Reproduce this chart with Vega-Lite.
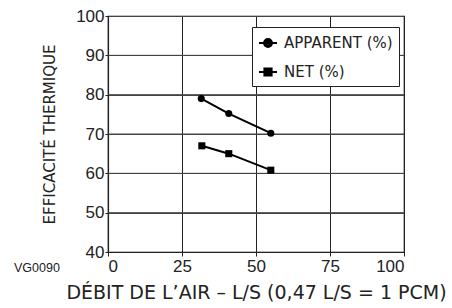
{
  "$schema": "https://vega.github.io/schema/vega-lite/v6.json",
  "width": 296,
  "height": 236,
  "autosize": "none",
  "padding": {"left": 108, "top": 16, "right": 48, "bottom": 56},
  "background": "white",
  "config": {
    "view": {"stroke": "black", "strokeWidth": 1.2},
    "font": "Liberation Sans"
  },
  "datasets": {
    "series": [
      {"debit": 31.5, "eff": 79.0, "serie": "APPARENT (%)"},
      {"debit": 40.8, "eff": 75.2, "serie": "APPARENT (%)"},
      {"debit": 55.0, "eff": 70.2, "serie": "APPARENT (%)"},
      {"debit": 31.7, "eff": 67.0, "serie": "NET (%)"},
      {"debit": 40.8, "eff": 65.0, "serie": "NET (%)"},
      {"debit": 55.0, "eff": 60.8, "serie": "NET (%)"}
    ],
    "grille": [{"eff": 50}, {"eff": 60}, {"eff": 70}, {"eff": 80}, {"eff": 90}],
    "note": [{"debit": -24, "eff": 35.9, "label": "VG0090"}]
  },
  "layer": [
    {
      "data": {"name": "series"},
      "mark": {"type": "line", "strokeWidth": 2},
      "encoding": {
        "x": {
          "field": "debit", "type": "quantitative",
          "scale": {"domain": [0, 100], "nice": false},
          "axis": {
            "values": [0, 25, 50, 75, 100],
            "title": "DÉBIT DE L’AIR – L/S (0,47 L/S = 1 PCM)",
            "titleFont": "DejaVu Sans", "titleFontWeight": "normal", "titleFontSize": 19, "titleColor": "#222",
            "titlePadding": 9,
            "labelFontSize": 17, "labelColor": "#222", "labelPadding": 2,
            "grid": true, "gridColor": "#222", "gridWidth": 1,
            "tickSize": 4, "tickColor": "#222", "domainColor": "#222", "domainWidth": 1.2
          }
        },
        "y": {
          "field": "eff", "type": "quantitative",
          "scale": {"domain": [40, 100], "nice": false, "zero": false},
          "axis": {
            "values": [40, 50, 60, 70, 80, 90, 100],
            "tickCount": 7,
            "labelOverlap": false,
            "title": "EFFICACITÉ THERMIQUE",
            "titleFont": "DejaVu Sans", "titleFontWeight": "normal", "titleFontSize": 15, "titleColor": "#222",
            "titlePadding": 18,
            "labelFontSize": 17, "labelColor": "#222", "labelPadding": 1,
            "grid": true, "gridWidth": 1, "gridColor": "#444",
            "tickSize": 3,
            "tickColor": "#222", "domainColor": "#222", "domainWidth": 1.2
          }
        },
        "color": {
          "field": "serie", "type": "nominal",
          "scale": {"domain": ["APPARENT (%)", "NET (%)"], "range": ["black", "black"]},
          "legend": {
            "title": null, "orient": "none", "legendX": 144, "legendY": 11,
            "strokeColor": "#222", "fillColor": "white", "padding": 6,
            "labelFont": "DejaVu Sans", "labelFontSize": 15, "labelColor": "#222", "labelOffset": 6,
            "symbolSize": 324, "symbolStrokeWidth": 2, "symbolFillColor": "black", "symbolStrokeColor": "black",
            "symbolType": {"expr": "datum.value == 'APPARENT (%)' ? 'M-1,0H1M-0.44,0A0.44,0.44,0,1,0,0.44,0A0.44,0.44,0,1,0,-0.44,0Z' : 'M-1,0H1M-0.4,-0.4H0.4V0.4H-0.4Z'"},
            "rowPadding": 11, "labelLimit": 200
          }
        }
      }
    },
    {
      "data": {"name": "grille"},
      "mark": {"type": "rule", "color": "#444", "strokeWidth": 1},
      "encoding": {
        "y": {"field": "eff", "type": "quantitative"}
      }
    },
    {
      "data": {"name": "series"},
      "mark": {"type": "point", "filled": true, "opacity": 1, "size": 50, "color": "black"},
      "encoding": {
        "x": {"field": "debit", "type": "quantitative"},
        "y": {"field": "eff", "type": "quantitative"},
        "shape": {"condition": {"test": "datum.serie == 'NET (%)'", "value": "square"}, "value": "circle"}
      }
    },
    {
      "data": {"name": "note"},
      "mark": {"type": "text", "clip": false, "fontSize": 12.5, "color": "#222", "font": "Liberation Sans"},
      "encoding": {
        "x": {"field": "debit", "type": "quantitative"},
        "y": {"field": "eff", "type": "quantitative"},
        "text": {"field": "label"}
      }
    }
  ]
}
